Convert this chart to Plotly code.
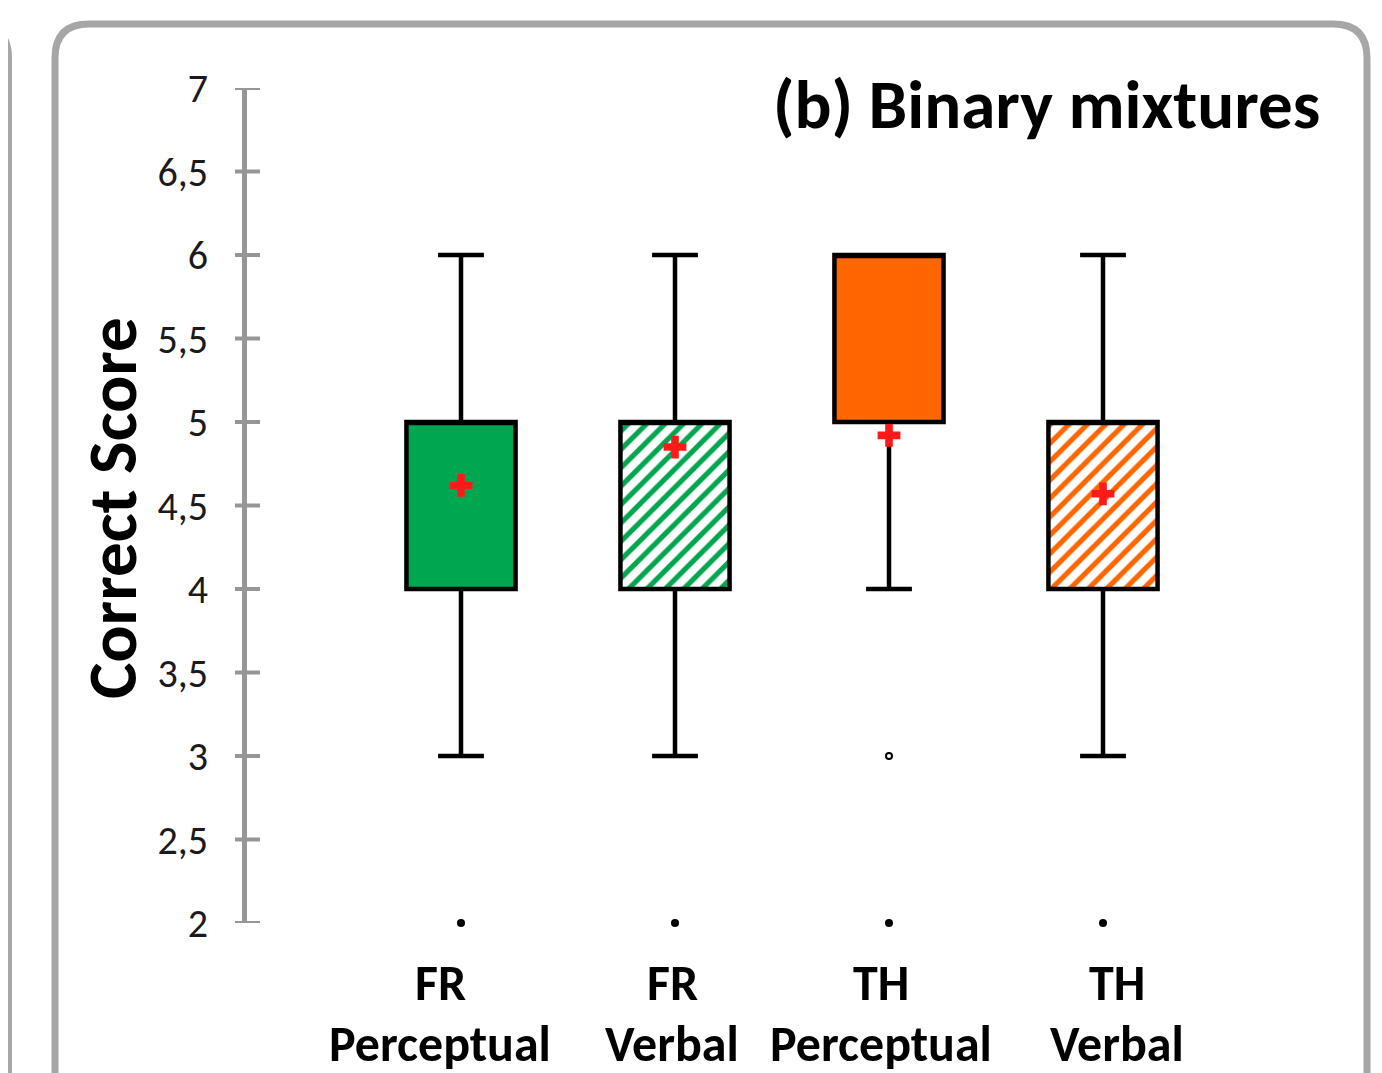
import plotly.graph_objects as go

# ---------------- data ----------------
groups = ["FR", "FR", "TH", "TH"]
modes = ["Perceptual", "Verbal", "Perceptual", "Verbal"]
positions = [0, 1, 2, 3]
q1 = [4, 4, 5, 4]
median = [5, 5, 6, 5]
q3 = [5, 5, 6, 5]
lowerfence = [3, 3, 4, 3]
upperfence = [6, 6, 6, 6]
means = [4.62, 4.85, 4.92, 4.57]
outlier_x = [0, 1, 2, 3]
outlier_y = [2, 2, 2, 2]
open_outlier_x = [2]
open_outlier_y = [3]
fill_colors = ["#00A650", "#00A650", "#FF6600", "#FF6600"]
fill_patterns = ["", "/", "", "/"]
y_tickvals = [2, 2.5, 3, 3.5, 4, 4.5, 5, 5.5, 6, 6.5, 7]
y_ticktext = ["2", "2,5", "3", "3,5", "4", "4,5", "5", "5,5", "6", "6,5", "7"]
title_text = "(b) Binary mixtures"
y_title = "Correct Score"

# ---------------- layout geometry (pixels in the final screenshot) ----------------
OFF = 8  # page body margin
W, H = 1382 - OFF, 1073 - OFF
PL, PR, PT, PB = 247, 1317, 88, 923
label_shift = [-21, -3, -8, 14]
FONT = "Carlito, 'Open Sans', sans-serif"


def px(x):
    return (x - PL) / (PR - PL)


def py(y):
    return (PB - y) / (PB - PT)


fig = go.Figure()

# box fills (solid / hatched), one bar trace per box
for i in range(len(positions)):
    if fill_patterns[i]:
        marker = dict(
            color="white", line=dict(width=0),
            pattern=dict(shape=fill_patterns[i], fgcolor=fill_colors[i],
                         bgcolor="white", fgopacity=1, size=13, solidity=0.4),
        )
    else:
        marker = dict(color=fill_colors[i], line=dict(width=0))
    fig.add_trace(go.Bar(
        x=[positions[i]], base=[q1[i]], y=[q3[i] - q1[i]],
        width=0.51, marker=marker, hoverinfo="skip", showlegend=False,
    ))

# box outlines + whiskers
fig.add_trace(go.Box(
    x=positions,
    q1=q1,
    median=median,
    q3=q3,
    lowerfence=lowerfence,
    upperfence=upperfence,
    width=0.51,
    whiskerwidth=0.42,
    fillcolor="rgba(0,0,0,0)",
    line=dict(color="black", width=4.5),
    boxpoints=False,
    showlegend=False,
))

# means
fig.add_trace(go.Scatter(
    x=positions, y=means, mode="markers", cliponaxis=False,
    marker=dict(symbol="cross", size=19, color="#FF1a1a", line=dict(width=0)),
    showlegend=False,
))

# outliers
fig.add_trace(go.Scatter(
    x=outlier_x, y=outlier_y, mode="markers", cliponaxis=False,
    marker=dict(symbol="circle", size=8, color="black"),
    showlegend=False,
))
fig.add_trace(go.Scatter(
    x=open_outlier_x, y=open_outlier_y, mode="markers", cliponaxis=False,
    marker=dict(symbol="circle-open", size=6, color="black", line=dict(width=2)),
    showlegend=False,
))

axis_color = "#969696"

annotations = []
for i, (g, m) in enumerate(zip(groups, modes)):
    annotations.append(dict(
        x=positions[i], y=py(982), xref="x", yref="paper",
        text="<b>%s</b>" % g, showarrow=False, xshift=label_shift[i],
        xanchor="center", yanchor="middle",
        font=dict(family=FONT, size=50, color="black"),
    ))
    annotations.append(dict(
        x=positions[i], y=py(1043), xref="x", yref="paper",
        text="<b>%s</b>" % m, showarrow=False, xshift=label_shift[i],
        xanchor="center", yanchor="middle",
        font=dict(family=FONT, size=50, color="black"),
    ))

annotations.append(dict(
    x=px(1322), y=py(105), xref="paper", yref="paper",
    text="<b>%s</b>" % title_text, showarrow=False,
    xanchor="right", yanchor="middle",
    font=dict(family=FONT, size=69, color="black"),
))
annotations.append(dict(
    x=px(112), y=py(508), xref="paper", yref="paper",
    text="<b>%s</b>" % y_title, showarrow=False, textangle=-90,
    xanchor="center", yanchor="middle",
    font=dict(family=FONT, size=69, color="black"),
))

border_color = "#A6A6A6"
r = 34
L, T, R, B = 55, 24, 1367, 1120
main_path = (
    f"M {px(L)},{py(B)} L {px(L)},{py(T + r)} "
    f"Q {px(L)},{py(T)} {px(L + r)},{py(T)} "
    f"L {px(R - r)},{py(T)} "
    f"Q {px(R)},{py(T)} {px(R)},{py(T + r)} "
    f"L {px(R)},{py(B)}"
)
left_path = (
    f"M {px(-40)},{py(T)} L {px(9 - r)},{py(T)} "
    f"Q {px(9)},{py(T)} {px(9)},{py(T + r)} "
    f"L {px(9)},{py(B)}"
)
shapes = [
    dict(type="path", path=main_path, xref="paper", yref="paper",
         line=dict(color=border_color, width=7), layer="above"),
    dict(type="path", path=left_path, xref="paper", yref="paper",
         line=dict(color=border_color, width=6), layer="above"),
]
# crossing tick marks on the y axis
for v in y_tickvals:
    shapes.append(dict(
        type="line", xref="paper", yref="y",
        x0=px(235), x1=px(260), y0=v, y1=v,
        line=dict(color=axis_color, width=4), layer="above",
    ))

fig.update_layout(
    width=W, height=H,
    margin=dict(l=PL - OFF, r=W - (PR - OFF), t=PT - OFF, b=H - (PB - OFF), pad=0),
    paper_bgcolor="white", plot_bgcolor="white",
    separators=",.",
    barmode="overlay", boxmode="overlay",
    showlegend=False,
    font=dict(family=FONT, color="black"),
    xaxis=dict(range=[-1, 4], visible=False, fixedrange=True),
    yaxis=dict(
        range=[2, 7], tickvals=y_tickvals, ticktext=y_ticktext,
        showline=True, linecolor=axis_color, linewidth=5,
        ticks="outside", ticklen=12, tickwidth=4, tickcolor="rgba(0,0,0,0)",
        showgrid=False, zeroline=False,
        ticklabelstandoff=14,
        tickfont=dict(family=FONT, size=40, color="#1a1a1a"),
    ),
    annotations=annotations,
    shapes=shapes,
)

fig.write_html("out.html")
